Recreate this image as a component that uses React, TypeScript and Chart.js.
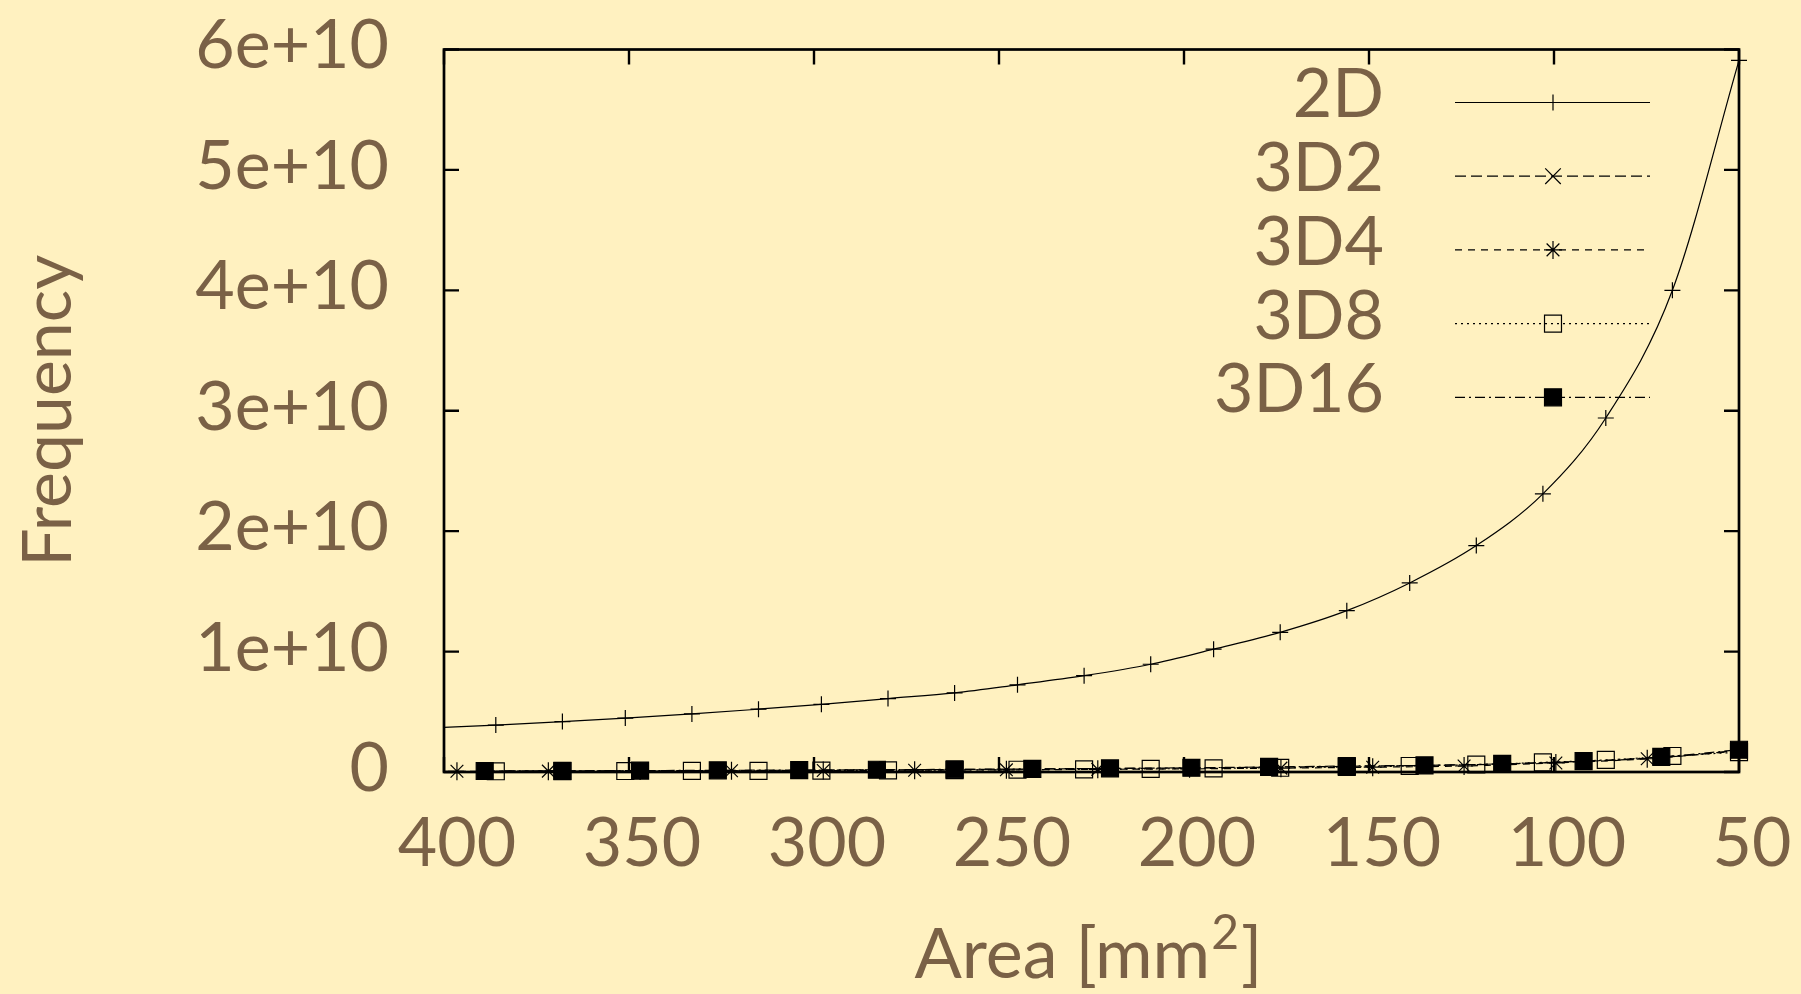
import React, { useEffect, useRef } from 'react';
import { Chart, registerables } from 'chart.js';
import { drawPoint } from 'chart.js/helpers';

Chart.register(...registerables);

// Axis ticks
const areaTicks = [400, 350, 300, 250, 200, 150, 100, 50];
const frequencyTicks = [0, 1e10, 2e10, 3e10, 4e10, 5e10, 6e10];

// 2D
const area2D = [400, 386, 368, 351, 333, 315, 298, 280, 262, 245, 227, 209, 192, 174, 156, 139, 121, 103, 86, 68, 50];
const freq2D = [3.71e9, 3.9e9, 4.19e9, 4.48e9, 4.82e9, 5.22e9, 5.62e9, 6.1e9, 6.57e9, 7.24e9, 8.0e9, 8.95e9, 10.2e9, 11.6e9, 13.4e9, 15.7e9, 18.8e9, 23.1e9, 29.4e9, 40.0e9, 59.1e9];

// 3D2
const area3D2 = [389, 368, 347, 326, 304, 283, 262, 241, 220, 198, 177, 156, 135, 114, 92, 71, 50];
const freq3D2 = [0.07e9, 0.09e9, 0.11e9, 0.13e9, 0.15e9, 0.18e9, 0.21e9, 0.25e9, 0.29e9, 0.34e9, 0.4e9, 0.47e9, 0.55e9, 0.66e9, 0.88e9, 1.2e9, 1.8e9];

// 3D4
const area3D4 = [396.5, 371.8, 347, 322.3, 297.5, 272.8, 248, 223.3, 198.5, 173.8, 149, 124.3, 99.5, 74.8, 50];
const freq3D4 = [0.06e9, 0.07e9, 0.08e9, 0.1e9, 0.12e9, 0.15e9, 0.18e9, 0.22e9, 0.26e9, 0.32e9, 0.4e9, 0.5e9, 0.75e9, 1.1e9, 1.75e9];

// 3D8
const area3D8 = [386, 368, 351, 333, 315, 298, 280, 262, 245, 227, 209, 192, 174, 156, 139, 121, 103, 86, 68, 50];
const freq3D8 = [0.06e9, 0.07e9, 0.08e9, 0.09e9, 0.1e9, 0.12e9, 0.14e9, 0.16e9, 0.19e9, 0.22e9, 0.26e9, 0.3e9, 0.35e9, 0.42e9, 0.5e9, 0.62e9, 0.8e9, 1.0e9, 1.33e9, 1.65e9];

// 3D16
const area3D16 = [389, 368, 347, 326, 304, 283, 262, 241, 220, 198, 177, 156, 135, 114, 92, 71, 50];
const freq3D16 = [0.08e9, 0.1e9, 0.12e9, 0.14e9, 0.16e9, 0.19e9, 0.22e9, 0.26e9, 0.3e9, 0.35e9, 0.42e9, 0.5e9, 0.55e9, 0.68e9, 0.9e9, 1.25e9, 1.85e9];

const W = 1801;
const H = 994;
const BG = '#fff1c0';
const TEXT = '#7a6146';
const FONT = 'Lato, "Liberation Sans", sans-serif';
const FONT_SIZE = 68;

const pts = (xs: number[], ys: number[]) => xs.map((x, i) => ({ x, y: ys[i] }));

const backgroundPlugin = {
  id: 'pageBackground',
  beforeDraw(chart: any) {
    const { ctx, width, height } = chart;
    ctx.save();
    ctx.fillStyle = BG;
    ctx.fillRect(0, 0, width, height);
    ctx.restore();
  },
};

// Border box with inward ticks on all four sides
const framePlugin = {
  id: 'frameTicks',
  beforeDatasetsDraw(chart: any) {
    const { ctx, chartArea: a, scales } = chart;
    const L = 15;
    ctx.save();
    ctx.strokeStyle = '#000';
    ctx.lineWidth = 2.4;
    ctx.beginPath();
    scales.x.ticks.forEach((t: any) => {
      const px = scales.x.getPixelForValue(t.value);
      ctx.moveTo(px, a.bottom);
      ctx.lineTo(px, a.bottom - L);
      ctx.moveTo(px, a.top);
      ctx.lineTo(px, a.top + L);
    });
    scales.y.ticks.forEach((t: any) => {
      const py = scales.y.getPixelForValue(t.value);
      ctx.moveTo(a.left, py);
      ctx.lineTo(a.left + L, py);
      ctx.moveTo(a.right, py);
      ctx.lineTo(a.right - L, py);
    });
    ctx.stroke();
    ctx.lineWidth = 2.7;
    ctx.strokeRect(a.left, a.top, a.right - a.left, a.bottom - a.top);
    ctx.restore();
  },
};

// Horizontal axis title with a raised "2"
const areaTitlePlugin = {
  id: 'areaTitle',
  afterDraw(chart: any) {
    const { ctx, chartArea: a } = chart;
    const main = 'Area [mm';
    const sup = '2';
    const tail = ']';
    ctx.save();
    ctx.fillStyle = TEXT;
    ctx.textBaseline = 'alphabetic';
    ctx.textAlign = 'left';
    const big = `${FONT_SIZE + 2}px ${FONT}`;
    const small = `${Math.round((FONT_SIZE + 2) * 0.68)}px ${FONT}`;
    ctx.font = big;
    const wMain = ctx.measureText(main).width;
    const wTail = ctx.measureText(tail).width;
    ctx.font = small;
    const wSup = ctx.measureText(sup).width + 3;
    const total = wMain + wSup + wTail;
    const cx = (a.left + a.right) / 2 - 3;
    const baseY = 978;
    let x = cx - total / 2;
    ctx.font = big;
    ctx.fillText(main, x, baseY);
    x += wMain + 1;
    ctx.font = small;
    ctx.fillText(sup, x, baseY - 29);
    x += wSup - 1;
    ctx.font = big;
    ctx.fillText(tail, x, baseY);
    ctx.restore();
  },
};

// Key: label on the left, line sample with its marker on the right
const keyPlugin = {
  id: 'plotKey',
  afterDatasetsDraw(chart: any) {
    const { ctx, chartArea: a } = chart;
    ctx.save();
    chart.data.datasets.forEach((ds: any, i: number) => {
      const y = a.top + 53 + i * 73.7;
      ctx.font = `${FONT_SIZE}px ${FONT}`;
      ctx.fillStyle = TEXT;
      ctx.textAlign = 'right';
      ctx.textBaseline = 'middle';
      ctx.fillText(ds.label, a.right - 355, y - 7);

      ctx.strokeStyle = '#000';
      ctx.lineWidth = ds.borderWidth;
      ctx.setLineDash(ds.borderDash || []);
      ctx.beginPath();
      ctx.moveTo(a.right - 284, y);
      ctx.lineTo(a.right - 89, y);
      ctx.stroke();
      ctx.setLineDash([]);

      ctx.fillStyle = ds.pointBackgroundColor;
      ctx.strokeStyle = '#000';
      ctx.lineWidth = ds.pointBorderWidth;
      drawPoint(ctx, { pointStyle: ds.pointStyle, radius: ds.keyRadius, borderWidth: ds.pointBorderWidth, rotation: 0 }, a.right - 186, y);
    });
    ctx.restore();
  },
};

export default function App() {
  const ref = useRef<HTMLCanvasElement>(null);

  useEffect(() => {
    const canvas = ref.current;
    if (!canvas) return;
    const common = {
      borderColor: '#000',
      borderWidth: 1.2,
      pointBorderColor: '#000',
      pointBorderWidth: 1.2,
      cubicInterpolationMode: 'monotone',
      clip: false,
    };
    const chart = new Chart(canvas, {
      type: 'line',
      data: {
        datasets: [
          {
            ...common,
            label: '2D',
            data: pts(area2D, freq2D),
            pointStyle: 'cross',
            pointRadius: area2D.map((x) => (x === 400 ? 0 : 8)),
            keyRadius: 8,
            pointBackgroundColor: 'rgba(0,0,0,0)',
            order: 5,
          },
          {
            ...common,
            label: '3D2',
            data: pts(area3D2, freq3D2),
            borderDash: [11, 5],
            pointStyle: 'crossRot',
            pointRadius: 11,
            keyRadius: 11,
            pointBackgroundColor: 'rgba(0,0,0,0)',
            order: 4,
          },
          {
            ...common,
            label: '3D4',
            data: pts(area3D4, freq3D4),
            borderDash: [7, 6],
            pointStyle: 'star',
            pointRadius: 9,
            keyRadius: 9,
            pointBackgroundColor: 'rgba(0,0,0,0)',
            order: 3,
          },
          {
            ...common,
            label: '3D8',
            data: pts(area3D8, freq3D8),
            borderDash: [2, 4],
            pointStyle: 'rect',
            pointRadius: 12,
            keyRadius: 12,
            pointBackgroundColor: 'rgba(0,0,0,0)',
            order: 2,
          },
          {
            ...common,
            label: '3D16',
            data: pts(area3D16, freq3D16),
            borderDash: [10, 4, 2, 4],
            pointStyle: 'rect',
            pointRadius: 12,
            keyRadius: 12,
            pointBackgroundColor: '#000',
            order: 1,
          },
        ] as any,
      },
      options: {
        animation: false,
        responsive: false,
        devicePixelRatio: 1,
        layout: { padding: { top: 49.5, right: 62, left: 0, bottom: 0 } },
        plugins: { legend: { display: false }, tooltip: { enabled: false } },
        events: [],
        scales: {
          x: {
            type: 'linear',
            reverse: true,
            min: 50,
            max: 400,
            afterBuildTicks: (s: any) => {
              s.ticks = areaTicks.map((v) => ({ value: v }));
            },
            afterFit: (s: any) => {
              s.height = H - 772;
              s.paddingLeft = 0;
              s.paddingRight = 0;
            },
            grid: { display: false },
            border: { display: false },
            ticks: {
              autoSkip: false,
              maxRotation: 0,
              padding: 23,
              labelOffset: 13,
              color: TEXT,
              font: { family: FONT, size: FONT_SIZE, lineHeight: 1.2 },
              callback: (v: any) => String(v),
            },
            title: { display: false },
          },
          y: {
            type: 'linear',
            min: 0,
            max: 6e10,
            afterBuildTicks: (s: any) => {
              s.ticks = frequencyTicks.map((v) => ({ value: v }));
            },
            afterFit: (s: any) => {
              s.width = 444;
              s.paddingTop = 0;
              s.paddingBottom = 0;
            },
            grid: { display: false },
            border: { display: false },
            ticks: {
              autoSkip: false,
              padding: 47,
              labelOffset: -3,
              color: TEXT,
              font: { family: FONT, size: FONT_SIZE, lineHeight: 1.2 },
              callback: (v: any) => (v === 0 ? '0' : `${Math.round(v / 1e10)}e+10`),
            },
            title: {
              display: true,
              text: 'Frequency',
              color: TEXT,
              font: { family: FONT, size: FONT_SIZE, lineHeight: 1.2 },
              padding: { top: 8, bottom: 0 },
            },
          },
        },
      } as any,
      plugins: [backgroundPlugin, framePlugin, keyPlugin, areaTitlePlugin],
    });
    return () => chart.destroy();
  }, []);

  return (
    <div style={{ position: 'fixed', left: 0, top: 0, width: W, height: H, background: BG }}>
      <canvas ref={ref} width={W} height={H} style={{ display: 'block' }} />
    </div>
  );
}
